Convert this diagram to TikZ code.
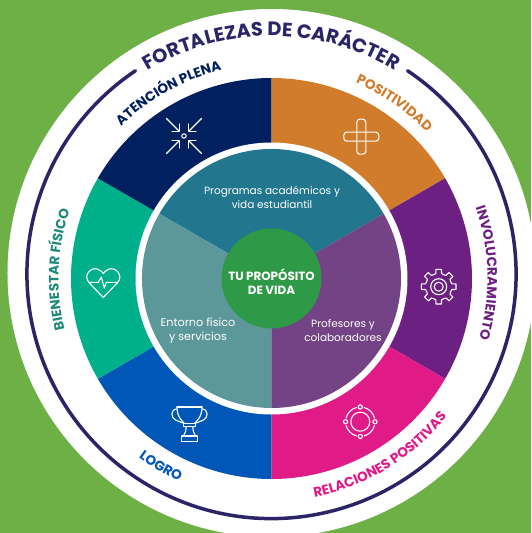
\documentclass[tikz,border=0pt]{standalone}
\usepackage{fontspec}
\setmainfont{Poppins}
\usetikzlibrary{decorations.text}

\definecolor{bggreen}{HTML}{6DB046}
\definecolor{ringblue}{HTML}{2B2467}
\definecolor{navyseg}{HTML}{002060}
\definecolor{orangeseg}{HTML}{D17C2B}
\definecolor{purpleseg}{HTML}{6C2082}
\definecolor{pinkseg}{HTML}{E01A86}
\definecolor{blueseg}{HTML}{0057B8}
\definecolor{greenseg}{HTML}{00B08A}
\definecolor{tealseg}{HTML}{22778F}
\definecolor{plumseg}{HTML}{744385}
\definecolor{sageseg}{HTML}{5C9799}
\definecolor{coregreen}{HTML}{2E9A47}
\definecolor{heartlabel}{HTML}{1F8A78}

\tikzset{
    icon/.style = {draw = white, line width = 1.1pt, line join = round, line cap = round},
    innertext/.style = {text = white, align = center, font = \fontsize{10.5}{14}\selectfont},
    coretext/.style = {text = white, align = center, font = \fontsize{11.9}{14}\selectfont\bfseries}
}

\newcommand{\arclabel}[6]{
    \path [decorate, decoration = {text along path, text align = center,
        text = {|\fontsize{#5}{#5}\selectfont\bfseries\color{#4}|#6}}]
        (#2:#1) arc [start angle = #2, end angle = #3, radius = #1];
}

\begin{document}
\begin{tikzpicture}[x = 1pt, y = 1pt]

    \useasboundingbox (-271.5, -254.5) rectangle (259.5, 278.5);
    \clip (-271.5, -254.5) rectangle (259.5, 278.5);

    \fill [bggreen] (-271.5, -254.5) rectangle (259.5, 278.5);
    \fill [white] (0, 5.5) circle [radius = 264];

    \foreach \ang/\col in {30/orangeseg, -30/purpleseg, -90/pinkseg, -150/blueseg, 150/greenseg, 90/navyseg} {
        \fill [\col] (0, 0) -- (\ang:200.5) arc [start angle = \ang, delta angle = 60, radius = 200.5] -- cycle;
    }

    \fill [white] (0, 0) circle [radius = 136];

    \fill [tealseg] (0, 0) -- (30:129.5) arc [start angle = 30, end angle = 150, radius = 129.5] -- cycle;
    \fill [sageseg] (0, 0) -- (150:129.5) arc [start angle = 150, end angle = 270, radius = 129.5] -- cycle;
    \fill [plumseg] (0, 0) -- (270:129.5) arc [start angle = 270, end angle = 390, radius = 129.5] -- cycle;
    \fill [coregreen] (0, 0) circle [radius = 50];

    \node [coretext] (core) at (0, -3) {TU PROPÓSITO\\DE VIDA};
    \node [innertext] (programas) at (0.5, 81) {Programas académicos y\\vida estudiantil};
    \node [innertext, font = \fontsize{11.2}{14}\selectfont] (entorno) at (-73.5, -52) {Entorno físico\\y servicios};
    \node [innertext] (profesores) at (71.5, -52) {Profesores y\\colaboradores};

    \draw [ringblue, line width = 3.5pt, line cap = round] (0, 4.5) ++(56.2:244.6) arc [start angle = 56.2, end angle = -236.2, radius = 244.6];

    \begin{scope}[shift = {(0, 4.5)}]
        \arclabel{238}{140}{40}{ringblue}{19.4}{FOR{TA}LEZAS DE CARÁCTER}
    \end{scope}
    \arclabel{214}{159}{79}{navyseg}{13.6}{ATENCIÓN PLENA}
    \arclabel{213}{95}{15}{orangeseg}{13.6}{POSITIVIDAD}
    \arclabel{216}{41.5}{-38.5}{purpleseg}{13.6}{INVOLUCRAMIENTO}
    \arclabel{213}{217.5}{137.5}{heartlabel}{13.6}{BIENESTAR FÍSICO}
    \arclabel{223}{199.5}{279.5}{blueseg}{13.6}{LOGRO}
    \arclabel{223}{-98.5}{-18.5}{pinkseg}{13.6}{RELACIONES POSITIVAS}

    \begin{scope}[shift = {(-87.5, 142.5)}]
        \draw [icon] (0, 0) circle [radius = 2.2];
        \foreach \sx/\sy in {1/1, 1/-1, -1/1, -1/-1} {
            \draw [icon] (\sx*17.5, \sy*17.5) -- (\sx*5, \sy*5);
            \draw [icon] (\sx*12, \sy*4.3) -- (\sx*4.3, \sy*4.3) -- (\sx*4.3, \sy*12);
        }
    \end{scope}

    \begin{scope}[shift = {(89.8, 141.8)}]
        \draw [icon, rounded corners = 3] (-4.5, -17.5) rectangle (4.5, 17.5);
        \draw [icon, rounded corners = 3] (-17.5, -4.5) rectangle (17.5, 4.5);
    \end{scope}

    \begin{scope}[shift = {(167.2, -8.2)}]
        \draw [icon] (-22.5:13) \foreach \ang in {0, 45, ..., 315} {
            -- (\ang-12:13.5) -- (\ang-9:17.5) -- (\ang+9:17.5) -- (\ang+12:13.5) -- (\ang+22.5:13)
        } -- cycle;
        \draw [icon] (0, 0) circle [radius = 8];
        \draw [icon] (0, 0) circle [radius = 4.5];
    \end{scope}

    \begin{scope}[shift = {(88.8, -143.2)}]
        \draw [icon] (0, 0) circle [radius = 9.5];
        \foreach \ang in {0, 90, 180, 270} {
            \draw [icon] (\ang:14.7) circle [radius = 2.1];
            \draw [icon] (\ang+15:14.7) arc [start angle = \ang+15, end angle = \ang+75, radius = 14.7];
        }
    \end{scope}

    \begin{scope}[shift = {(-82, -145.5)}]
        \draw [icon] (-12.5, 17) -- (12.5, 17);
        \draw [icon] (-12.5, 17) .. controls (-12.5, 8) and (-8, 3) .. (-5, 0.7);
        \draw [icon] (12.5, 17) .. controls (12.5, 8) and (8, 3) .. (5, 0.7);
        \draw [icon] (-12.5, 15) .. controls (-19, 15) and (-19, 6) .. (-14, 4) -- (-6, 0.7);
        \draw [icon] (12.5, 15) .. controls (19, 15) and (19, 6) .. (14, 4) -- (6, 0.7);
        \draw [icon] (-6, -2.7) rectangle (6, 0.7);
        \draw [icon] (-3.5, -2.7) .. controls (-3.5, -7) .. (-6, -12);
        \draw [icon] (3.5, -2.7) .. controls (3.5, -7) .. (6, -12);
        \draw [icon] (-8, -17.7) rectangle (8.3, -12);
    \end{scope}

    \begin{scope}[shift = {(-168.2, -4.5)}]
        \draw [icon] (0, -14.5) -- (-14, 0) .. controls (-21, 8) and (-12, 16) .. (-6, 14)
            .. controls (-3, 13) and (-1, 11) .. (0, 9.5)
            .. controls (1, 11) and (3, 13) .. (6, 14)
            .. controls (12, 16) and (21, 8) .. (14, 0) -- cycle;
        \draw [icon] (-14, 0.7) -- (-5, 0.7) -- (-2, 6) -- (1, -5) -- (3, 0.7) -- (14, 0.7);
    \end{scope}

\end{tikzpicture}
\end{document}
